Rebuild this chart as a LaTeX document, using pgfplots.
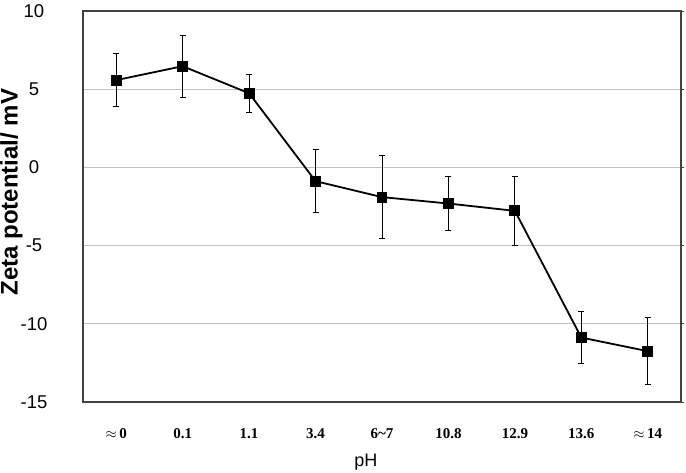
\documentclass[border=0pt]{standalone}
\usepackage{pgfplots}
\pgfplotsset{compat=1.18}
\usepackage{fontspec}
\setmainfont{Liberation Serif}
\setsansfont{Liberation Sans}
\definecolor{gridgray}{HTML}{C0C0C0}
\definecolor{framegray}{HTML}{404040}
\begin{document}
\begin{tikzpicture}
\begin{axis}[
  at={(0,0)}, anchor=south west,
  scale only axis,
  width=598pt, height=391pt,
  xmin=-0.5, xmax=8.5,
  ymin=-15, ymax=10,
  xtick={0,1,2,3,4,5,6,7,8},
  xticklabels={$\approx$\,0,0.1,1.1,3.4,6\textasciitilde7,10.8,12.9,13.6,$\approx$\,14},
  xticklabel style={font=\fontsize{15}{18}\selectfont\bfseries, anchor=center, yshift=-29pt},
  x tick style={draw=none},
  ytick={-15,-10,-5,0,5,10},
  yticklabels={-15,-10,-5,0,5,10},
  ytick pos=right, yticklabel pos=left,
  tick align=outside,
  major tick length=3pt,
  y tick style={framegray, line width=0.8pt},
  yticklabel style={font=\sffamily\fontsize{18.5}{21}\selectfont, anchor=center, xshift=-46pt},
  ymajorgrids,
  grid style={gridgray, line width=1pt},
  axis line style={framegray, line width=1.3pt},
  xlabel={pH},
  xlabel style={font=\sffamily\fontsize{18}{20}\selectfont, at={(axis description cs:0.473,0)}, anchor=center, yshift=-60pt},
  ylabel={Zeta potential/ mV},
  ylabel style={font=\sffamily\bfseries\fontsize{24}{26}\selectfont, at={(axis description cs:-0.1196,0.537)}, anchor=center, rotate=0},
  clip=false,
]
\addplot[black, line width=1.8pt, mark=square*, mark size=4.5pt,
  error bars/.cd, y dir=both, y explicit,
  error bar style={black, line width=0.9pt},
  error mark options={black, line width=0.9pt, mark size=3pt, rotate=90}]
coordinates {
  (0,5.58)   +- (0,1.70)
  (1,6.47)   +- (0,1.98)
  (2,4.74)   +- (0,1.23)
  (3,-0.88)  +- (0,2.03)
  (4,-1.90)  +- (0,2.66)
  (5,-2.31)  +- (0,1.70)
  (6,-2.78)  +- (0,2.22)
  (7,-10.88) +- (0,1.67)
  (8,-11.75) +- (0,2.13)
};
\end{axis}
\pgfresetboundingbox
\path[use as bounding box] (-83pt,-71pt) rectangle (603pt,402pt);
\end{tikzpicture}
\end{document}
